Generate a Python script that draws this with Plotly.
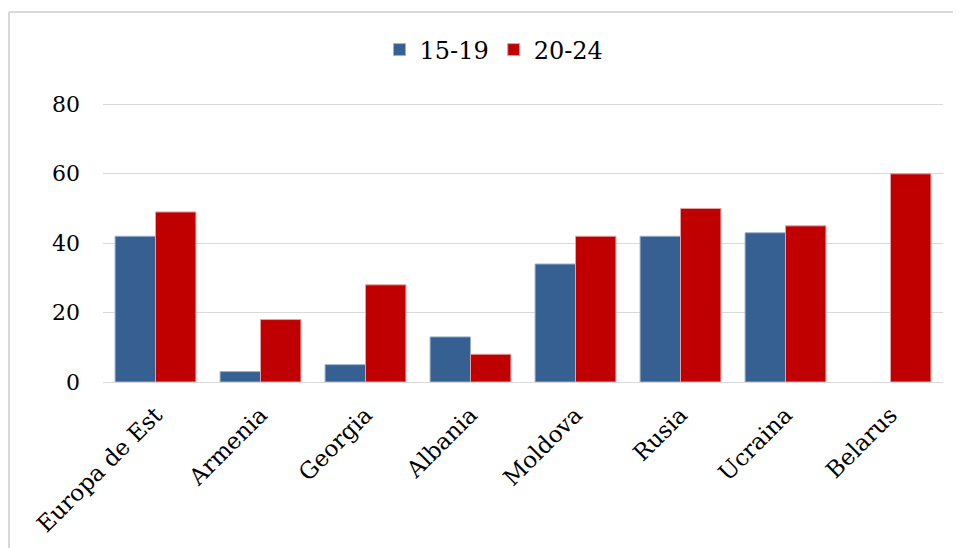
import plotly.graph_objects as go

categories = ["Europa de Est", "Armenia", "Georgia", "Albania", "Moldova", "Rusia", "Ucraina", "Belarus"]
series_names = ["15-19", "20-24"]
values_15_19 = [42, 3, 5, 13, 34, 42, 43, None]
values_20_24 = [49, 18, 28, 8, 42, 50, 45, 60]
y_ticks = [0, 20, 40, 60, 80]

colors = ["#376092", "#C00000"]
edge_colors = ["#9AB0CC", "#E6A0A0"]

W, H = 961, 548
off = 8  # page body margin
ml, mt = 103 - off, 103 - off
mr = W - (943 - off)
mb = H - (382 - off)
pw, ph = W - ml - mr, H - mt - mb

fig = go.Figure()
for name, vals, c, ec in zip(series_names, [values_15_19, values_20_24], colors, edge_colors):
    fig.add_trace(go.Bar(x=categories, y=vals, name=name,
                         marker=dict(color=c, line=dict(color=ec, width=1))))

font = "DejaVu Serif, Liberation Serif, serif"
bx = (9 - off - ml) / pw
by = 1 + (mt - (12 - off)) / ph
fig.update_layout(
    width=W, height=H,
    margin=dict(l=ml, r=mr, t=mt, b=mb),
    paper_bgcolor="white", plot_bgcolor="white",
    barmode="group", bargap=0.23, bargroupgap=0,
    font=dict(family=font, color="#000000", size=22),
    legend=dict(orientation="h", x=(494 - off - ml) / pw, xanchor="center",
                y=1 + (mt - (50 - off)) / ph, yanchor="middle",
                font=dict(family=font, size=24), traceorder="normal"),
    showlegend=True,
    xaxis=dict(tickangle=-45, tickfont=dict(family=font, size=23), showline=False, showgrid=False,
               ticks="", ticklabelstandoff=14),
    yaxis=dict(range=[0, 80.4], tickvals=y_ticks, showgrid=True, gridcolor="#D9D9D9", gridwidth=1,
               zeroline=True, zerolinecolor="#D9D9D9", zerolinewidth=1, showline=False,
               tickfont=dict(family=font, size=22), ticklabelstandoff=22),
    shapes=[
        dict(type="line", xref="paper", yref="paper", x0=bx, x1=2, y0=by, y1=by,
             line=dict(color="#D9D9D9", width=2)),
        dict(type="line", xref="paper", yref="paper", x0=bx, x1=bx, y0=by, y1=-2,
             line=dict(color="#D9D9D9", width=2)),
    ],
)
fig.write_html("out.html")
